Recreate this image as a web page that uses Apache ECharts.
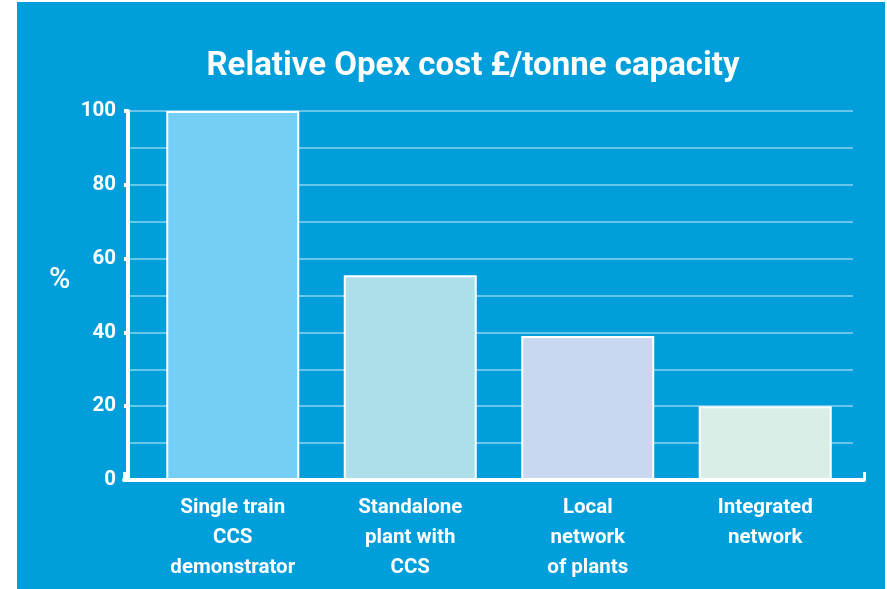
<!DOCTYPE html>
<html>
<head>
<meta charset="utf-8">
<script src="https://cdn.jsdelivr.net/npm/echarts@6/dist/echarts.min.js"></script>
<style>
  html, body { margin: 0; padding: 0; background: #ffffff; width: 887px; height: 589px; overflow: hidden; }
  #chart { position: absolute; left: 17px; top: 2px; width: 868px; height: 587px; }
</style>
</head>
<body>
<div id="chart"></div>
<script>
const titleText = 'Relative Opex cost £/tonne capacity';
const categories = ['Single train\nCCS\ndemonstrator', 'Standalone\nplant with\nCCS', 'Local\nnetwork\nof plants', 'Integrated\nnetwork'];
const values = [100, 55.5, 39, 20];
const barColors = ['#74cef5', '#acdfea', '#c9d8f0', '#d8eee7'];
const yTicks = [0, 20, 40, 60, 80, 100];
const yAxisName = '%';

const FONT = 'Roboto, "Open Sans", sans-serif';
const chart = echarts.init(document.getElementById('chart'));
const gridTop = 109, gridBottom = 109;

chart.setOption({
  backgroundColor: '#009edb',
  animation: false,
  title: {
    text: titleText,
    left: 451,
    textAlign: 'center',
    top: 43,
    textStyle: { color: '#ffffff', fontFamily: FONT, fontWeight: 'bold', fontSize: 33 }
  },
  graphic: [{
    type: 'text',
    left: 32,
    top: 264,
    style: { text: yAxisName, fill: '#ffffff', font: '500 29px ' + FONT }
  }],
  grid: [
    { left: 111, right: 32, top: gridTop, bottom: gridBottom },
    { left: 127, right: 31, top: gridTop, bottom: gridBottom },
    { left: 107, right: 21, top: gridTop, bottom: gridBottom }
  ],
  xAxis: [
    { type: 'value', gridIndex: 0, show: false, min: 0, max: 1 },
    {
      type: 'category', gridIndex: 1, data: categories,
      axisLine: { show: false }, axisTick: { show: false },
      axisLabel: { color: '#ffffff', fontFamily: FONT, fontWeight: 'bold', fontSize: 20.5, lineHeight: 30, margin: 13 }
    },
    {
      type: 'value', gridIndex: 2, min: 0, max: 1, interval: 1,
      axisLine: { show: true, lineStyle: { color: '#ffffff', width: 4 } },
      axisTick: { show: true, inside: true, length: 8, lineStyle: { color: '#ffffff', width: 3 } },
      axisLabel: { show: false }, splitLine: { show: false }
    }
  ],
  yAxis: [
    {
      type: 'value', gridIndex: 0, min: yTicks[0], max: yTicks[yTicks.length - 1], interval: 20,
      axisLine: { show: true, lineStyle: { color: '#ffffff', width: 4 } },
      axisTick: { show: true, length: 4, lineStyle: { color: '#ffffff', width: 4 } },
      axisLabel: { color: '#ffffff', fontFamily: FONT, fontWeight: 'bold', fontSize: 20.5, margin: 12 },
      splitLine: { show: true, lineStyle: { color: 'rgba(255,255,255,0.55)', width: 1.5 } },
      minorTick: { show: false, splitNumber: 2 },
      minorSplitLine: { show: true, lineStyle: { color: 'rgba(255,255,255,0.55)', width: 1.5 } }
    },
    { type: 'value', gridIndex: 1, min: 0, max: 100, show: false },
    { type: 'value', gridIndex: 2, min: 0, max: 100, show: false }
  ],
  series: [{
    type: 'bar',
    xAxisIndex: 1,
    yAxisIndex: 1,
    barWidth: 133,
    data: values.map((v, i) => ({
      value: v,
      itemStyle: { color: barColors[i], borderColor: '#ffffff', borderWidth: 2 }
    }))
  }]
});
</script>
</body>
</html>
